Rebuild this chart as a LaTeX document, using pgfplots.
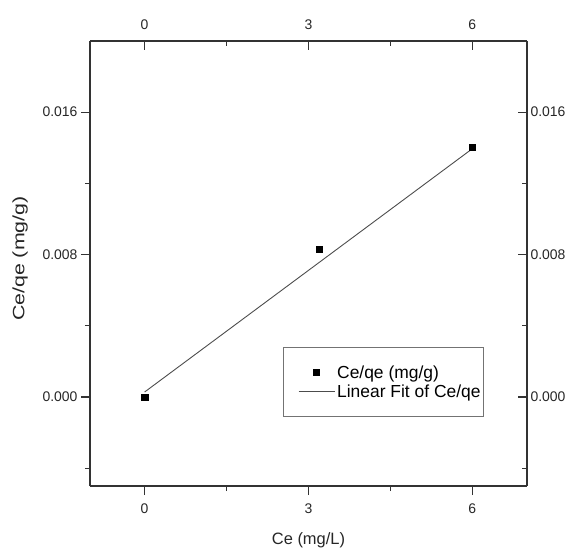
\documentclass[border=0pt]{standalone}
\usepackage{fontspec}
\setmainfont{Liberation Sans}
\usepackage{pgfplots}
\pgfplotsset{compat=1.18}
\begin{document}
\begin{tikzpicture}
\path[use as bounding box] (-90bp,-62bp) rectangle (480bp,486bp);
\pgfplotsset{
  common/.style={
    scale only axis, width=437bp, height=445bp,
    xmin=-1, xmax=7, ymin=-0.005, ymax=0.020,
    xtick={0,3,6}, xticklabels={0,3,6},
    minor xtick={1.5,4.5},
    ytick={0,0.008,0.016}, yticklabels={0.000,0.008,0.016},
    minor ytick={-0.004,0.004,0.012},
    axis line style={black!80, line width=1.1pt},
    major tick length=9bp, minor tick length=5bp,
    every tick/.style={black!80, line width=1.1pt},
    tick label style={font=\fontsize{14}{16}\selectfont, black!85},
    scaled y ticks=false,
  }
}
\begin{axis}[common,
  axis x line*=bottom, axis y line*=left, tick align=outside,
  xticklabel style={yshift=-5bp},
  xlabel={Ce (mg/L)}, ylabel={\scalebox{1.3}[1]{Ce/qe (mg/g)}},
  label style={font=\fontsize{16.5}{19}\selectfont, black!85},
  xlabel style={at={(axis description cs:0.5,-0.1213)}, anchor=center},
  ylabel style={at={(axis description cs:-0.160,0.511)}, anchor=center},
  legend style={at={(0.9016,0.155)}, anchor=south east, draw=black!55, line width=0.8pt,
    font=\fontsize{17.5}{20}\selectfont, inner xsep=1bp, inner ysep=16bp,
    row sep=1bp, cells={anchor=west}},
]
\addplot[only marks, mark=square*, mark size=3.2bp, black,
  legend image code/.code={\path (0bp,0bp); \fill[black] (29bp,-2.8bp) rectangle (35bp,2.8bp);}]
  coordinates {(0,0.0000) (3.2,0.0083) (6,0.01402)};
\addlegendentry{Ce/qe (mg/g)}
\addplot[black!70, line width=0.9pt,
  legend image code/.code={\path (0bp,0bp); \draw[black!70, line width=0.9pt] (14bp,0bp) -- (50bp,0bp);}]
  coordinates {(0,0.00028) (6,0.01395)};
\addlegendentry{Linear Fit of Ce/qe}
\end{axis}
\begin{axis}[common,
  axis x line*=top, axis y line*=right, tick align=inside,
  xticklabel style={yshift=8bp},
]
\addplot[draw=none] coordinates {(0,0)};
\end{axis}
\end{tikzpicture}
\end{document}
